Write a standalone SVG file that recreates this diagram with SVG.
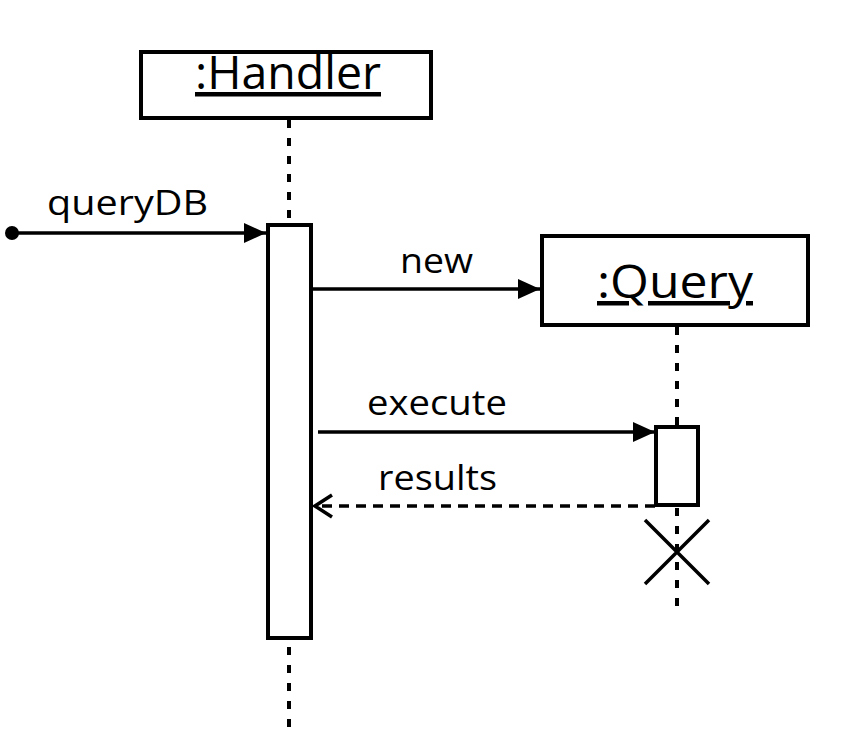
<svg xmlns="http://www.w3.org/2000/svg" width="846" height="748" viewBox="0 0 846 748">
<style>
.box{fill:#fff;stroke:#000;stroke-width:4}
.life{stroke:#000;stroke-width:4;stroke-dasharray:8 10;fill:none}
.msg{stroke:#000;stroke-width:3.5;fill:none}
.ret{stroke:#000;stroke-width:3.5;fill:none;stroke-dasharray:10 7}
.t{font-family:"Open Sans","Liberation Sans",sans-serif;fill:#000}
.h{font-size:45px;text-decoration:underline}
.l{font-size:34px}
</style>
<defs>
<marker id="fill" viewBox="0 0 22 20" refX="22" refY="10" markerWidth="22" markerHeight="20" markerUnits="userSpaceOnUse" orient="auto"><path d="M0,0 L22,10 L0,20 Z" fill="#000"/></marker>
<marker id="open" viewBox="0 0 22 26" refX="19" refY="13" markerWidth="22" markerHeight="26" markerUnits="userSpaceOnUse" orient="auto"><path d="M2,2 L19,13 L2,24" fill="none" stroke="#000" stroke-width="3.5"/></marker>
</defs>
<g id="connectors">
<line class="life" x1="289" y1="120" x2="289" y2="225"/>
<line class="life" x1="289" y1="647" x2="289" y2="730"/>
<line class="life" x1="677" y1="327" x2="677" y2="427"/>
<line class="life" x1="677" y1="508" x2="677" y2="610"/>
<circle cx="12" cy="233" r="7" fill="#000"/>
<line class="msg" x1="12" y1="233" x2="266" y2="233" marker-end="url(#fill)"/>
<line class="msg" x1="311" y1="289" x2="540" y2="289" marker-end="url(#fill)"/>
<line class="msg" x1="318" y1="432" x2="655" y2="432" marker-end="url(#fill)"/>
<line class="ret" x1="655" y1="506" x2="315" y2="506" marker-end="url(#open)"/>
<path d="M645,520 L709,584 M709,520 L645,584" stroke="#000" stroke-width="3.5" fill="none"/>
</g>
<g id="handler">
<rect class="box" x="141" y="52" width="290" height="66"/>
<text class="t h" x="288" y="89" text-anchor="middle" textLength="186" lengthAdjust="spacingAndGlyphs">:Handler</text>
</g>
<g id="handler-activation">
<rect class="box" x="268" y="225" width="43" height="413"/>
</g>
<g id="query">
<rect class="box" x="542" y="236" width="266" height="89"/>
<text class="t h" x="675" y="298" text-anchor="middle" textLength="156" lengthAdjust="spacingAndGlyphs">:Query</text>
</g>
<g id="query-activation">
<rect class="box" x="656" y="427" width="42" height="78"/>
</g>
<g id="labels">
<text class="t l" x="47" y="215" textLength="161" lengthAdjust="spacingAndGlyphs">queryDB</text>
<text class="t l" x="400" y="273" textLength="73" lengthAdjust="spacingAndGlyphs">new</text>
<text class="t l" x="367" y="415" textLength="140" lengthAdjust="spacingAndGlyphs">execute</text>
<text class="t l" x="378" y="490" textLength="119" lengthAdjust="spacingAndGlyphs">results</text>
</g>
</svg>
